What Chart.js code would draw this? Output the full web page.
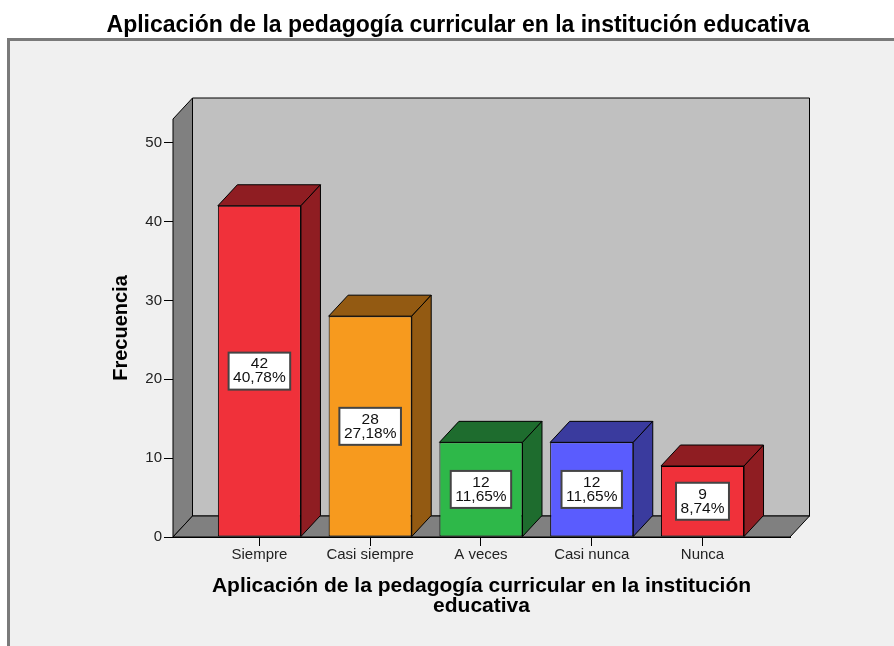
<!DOCTYPE html>
<html>
<head>
<meta charset="utf-8">
<style>
  html, body { margin: 0; padding: 0; background: #fff; }
  #wrap { width: 894px; height: 646px; }
</style>
<script src="https://cdn.jsdelivr.net/npm/chart.js@4.4.0/dist/chart.umd.min.js"></script>
</head>
<body>
<div id="wrap"><canvas id="grafico"></canvas></div>
<script>
const titulo = 'Aplicación de la pedagogía curricular en la institución educativa'
const categorias = ['Siempre', 'Casi siempre', 'A veces', 'Casi nunca', 'Nunca']
const frecuencias = [42, 28, 12, 12, 9]
const porcentajes = ['40,78%', '27,18%', '11,65%', '11,65%', '8,74%']
const ticksY = [0, 10, 20, 30, 40, 50]

const coloresFrente = ['#f0313a', '#f79a1e', '#2eb849', '#5a5cfe', '#f0313a']
const coloresLado = ['#8f1d22', '#935a12', '#1e6c2e', '#3a3b9e', '#8f1d22']

const FUENTE = '"Liberation Sans", Arial, sans-serif'
// profundidad del efecto 3D
const DX = 19.5
const DY = 21

function poligono(ctx, pts, fill) {
  ctx.beginPath()
  ctx.moveTo(pts[0][0], pts[0][1])
  for (let i = 1; i < pts.length; i++) ctx.lineTo(pts[i][0], pts[i][1])
  ctx.closePath()
  ctx.fillStyle = fill
  ctx.fill()
  ctx.stroke()
}

const caja3d = {
  id: 'caja3d',
  beforeDraw(chart) {
    const ctx = chart.ctx
    ctx.save()
    ctx.fillStyle = '#ffffff'
    ctx.fillRect(0, 0, chart.width, chart.height)
    ctx.fillStyle = '#f0f0f0'
    ctx.fillRect(8, 39, chart.width, chart.height)
    ctx.strokeStyle = '#7a7a7a'
    ctx.lineWidth = 3
    ctx.strokeRect(8.5, 39.5, chart.width + 10, chart.height + 10)
    // titulo principal
    ctx.fillStyle = '#000'
    ctx.font = 'bold 23px ' + FUENTE
    ctx.textAlign = 'center'
    ctx.textBaseline = 'alphabetic'
    ctx.fillText(titulo, 458, 32)
    ctx.restore()
  },
  beforeDatasetsDraw(chart) {
    const ctx = chart.ctx
    const { left, right, top, bottom } = chart.chartArea
    ctx.save()
    ctx.strokeStyle = '#000'
    ctx.lineWidth = 1
    ctx.lineJoin = 'round'
    // pared del fondo
    poligono(ctx, [[left + DX, top - DY], [right + DX, top - DY], [right + DX, bottom - DY], [left + DX, bottom - DY]], '#c0c0c0')
    // pared lateral
    poligono(ctx, [[left, top], [left + DX, top - DY], [left + DX, bottom - DY], [left, bottom]], '#808080')
    // piso
    poligono(ctx, [[left, bottom], [left + DX, bottom - DY], [right + DX, bottom - DY], [right, bottom]], '#808080')
    // caras superior y lateral de las barras
    const meta = chart.getDatasetMeta(0)
    meta.data.forEach((bar, i) => {
      const { x, y, base, width } = bar.getProps(['x', 'y', 'base', 'width'], true)
      const l = x - width / 2
      const r = x + width / 2
      poligono(ctx, [[l, y], [l + DX, y - DY], [r + DX, y - DY], [r, y]], coloresLado[i])
      poligono(ctx, [[r, y], [r + DX, y - DY], [r + DX, base - DY], [r, base]], coloresLado[i])
    })
    ctx.restore()
  },
  afterDatasetsDraw(chart) {
    const ctx = chart.ctx
    const meta = chart.getDatasetMeta(0)
    ctx.save()
    ctx.font = '15.5px ' + FUENTE
    ctx.textAlign = 'center'
    ctx.textBaseline = 'middle'
    meta.data.forEach((bar, i) => {
      const { x, y, base } = bar.getProps(['x', 'y', 'base'], true)
      const cy = (y + base) / 2
      const lineas = [String(frecuencias[i]), porcentajes[i]]
      const w = Math.max(...lineas.map(t => ctx.measureText(t).width)) + 9
      const h = 37
      ctx.fillStyle = '#ffffff'
      ctx.fillRect(x - w / 2, cy - h / 2, w, h)
      ctx.strokeStyle = '#444'
      ctx.lineWidth = 2
      ctx.strokeRect(x - w / 2, cy - h / 2, w, h)
      ctx.fillStyle = '#111'
      ctx.fillText(lineas[0], x, cy - 7)
      ctx.fillText(lineas[1], x, cy + 7)
    })
    ctx.restore()
  }
}

new Chart(document.getElementById('grafico'), {
  type: 'bar',
  data: {
    datasets: [{
      data: frecuencias.map((v, i) => ({ x: i, y: v })),
      backgroundColor: coloresFrente,
      borderColor: '#000',
      borderWidth: 1,
      borderSkipped: false,
      barPercentage: 0.75,
      categoryPercentage: 1
    }]
  },
  options: {
    responsive: true,
    maintainAspectRatio: false,
    animation: false,
    layout: { padding: { top: 119, right: 104, left: 0, bottom: 0 } },
    plugins: {
      legend: { display: false },
      tooltip: { enabled: false },
      title: { display: false }
    },
    scales: {
      x: {
        type: 'linear',
        min: -0.78,
        max: 4.79,
        bounds: 'data',
        offset: false,
        afterFit: s => { s.height = 109 },
        afterBuildTicks: s => { s.ticks = categorias.map((c, i) => ({ value: i })) },
        ticks: {
          callback: v => categorias[v],
          color: '#222',
          font: { family: FUENTE, size: 15 },
          padding: 0,
          maxRotation: 0,
          autoSkip: false
        },
        grid: { offset: false, drawOnChartArea: false, tickLength: 9, color: '#000' },
        border: { color: '#000' },
        title: {
          display: true,
          text: ['Aplicación de la pedagogía curricular en la institución', 'educativa'],
          color: '#000',
          font: { family: FUENTE, size: 21, weight: 'bold', lineHeight: 0.952 },
          padding: { top: 0, bottom: 30 }
        }
      },
      y: {
        min: 0,
        max: 53,
        afterFit: s => { s.width = 173 },
        afterBuildTicks: s => { s.ticks = ticksY.map(v => ({ value: v })) },
        ticks: {
          color: '#222',
          font: { family: FUENTE, size: 15 },
          padding: 2
        },
        grid: { drawOnChartArea: false, tickLength: 9, color: '#000' },
        border: { color: '#000' },
        title: {
          display: true,
          text: 'Frecuencia',
          color: '#000',
          font: { family: FUENTE, size: 20, weight: 'bold', lineHeight: 1.2 },
          padding: { top: 109, bottom: 0 }
        }
      }
    }
  },
  plugins: [caja3d]
})
</script>
</body>
</html>
